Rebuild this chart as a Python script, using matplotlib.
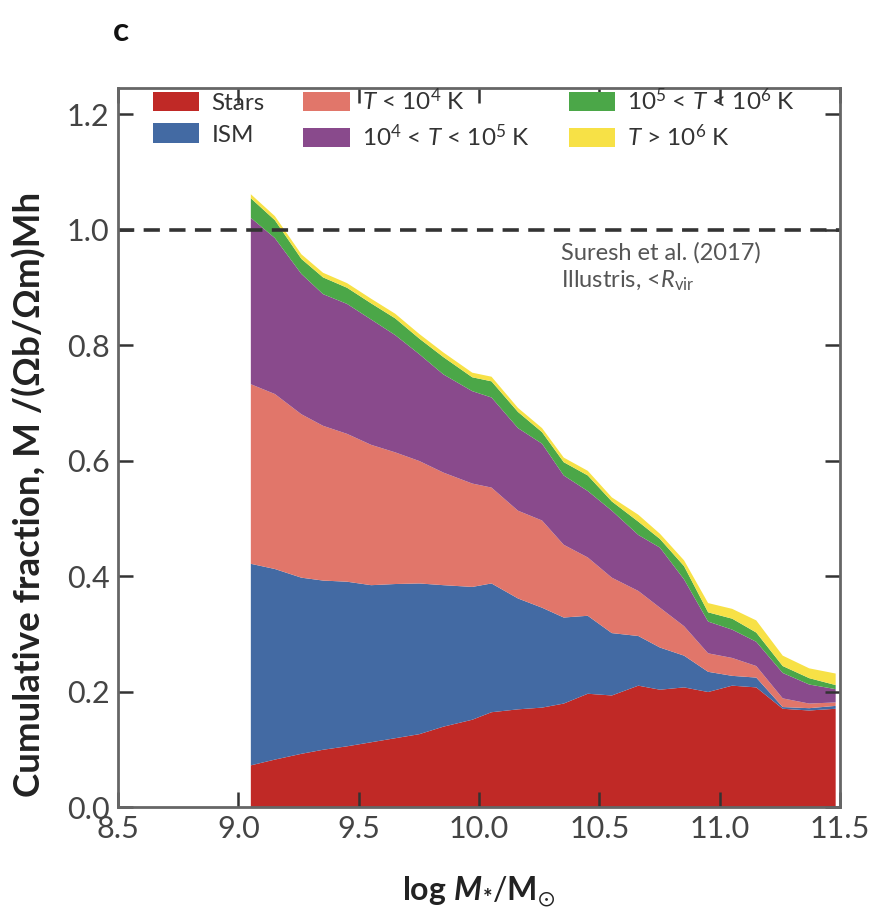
import matplotlib
matplotlib.use("Agg")
import matplotlib.pyplot as plt
import numpy as np

plt.rcParams['font.family'] = ['Lato', 'DejaVu Sans']
plt.rcParams['mathtext.fontset'] = 'custom'
plt.rcParams['mathtext.rm'] = 'Lato'
plt.rcParams['mathtext.it'] = 'Lato:italic'
plt.rcParams['mathtext.bf'] = 'Lato:bold'
plt.rcParams['mathtext.bfit'] = 'Lato:bold:italic'
plt.rcParams['mathtext.fallback'] = 'stixsans'

# stellar mass bins (log M*/Msun)
log_mstar = [9.05, 9.15, 9.26, 9.35, 9.45, 9.55, 9.65, 9.75, 9.85, 9.97,
             10.05, 10.16, 10.26, 10.35, 10.45, 10.55, 10.66, 10.75, 10.85,
             10.95, 11.05, 11.15, 11.26, 11.37, 11.48]

# cumulative baryon fractions, stacked from the bottom up
cum_stars = [0.073, 0.083, 0.093, 0.100, 0.106, 0.113, 0.120, 0.127, 0.140, 0.152,
             0.165, 0.170, 0.173, 0.180, 0.197, 0.194, 0.211, 0.204, 0.208,
             0.200, 0.211, 0.208, 0.171, 0.168, 0.171]
cum_ism = [0.422, 0.413, 0.398, 0.393, 0.391, 0.385, 0.387, 0.388, 0.385, 0.382,
           0.388, 0.362, 0.346, 0.329, 0.332, 0.302, 0.297, 0.277, 0.263,
           0.235, 0.228, 0.225, 0.174, 0.172, 0.176]
cum_cold = [0.733, 0.716, 0.681, 0.661, 0.647, 0.628, 0.615, 0.600, 0.580, 0.561,
            0.554, 0.514, 0.497, 0.455, 0.433, 0.398, 0.375, 0.346, 0.314,
            0.267, 0.259, 0.245, 0.189, 0.180, 0.182]
cum_cool = [1.021, 0.986, 0.924, 0.889, 0.872, 0.845, 0.818, 0.785, 0.750, 0.721,
            0.710, 0.657, 0.630, 0.575, 0.548, 0.514, 0.472, 0.450, 0.395,
            0.322, 0.308, 0.287, 0.233, 0.213, 0.205]
cum_warm = [1.055, 1.017, 0.950, 0.918, 0.900, 0.873, 0.847, 0.812, 0.780, 0.745,
            0.738, 0.685, 0.650, 0.598, 0.575, 0.530, 0.495, 0.465, 0.418,
            0.338, 0.327, 0.303, 0.245, 0.224, 0.212]
cum_hot = [1.062, 1.024, 0.958, 0.926, 0.908, 0.881, 0.855, 0.820, 0.788, 0.753,
           0.746, 0.692, 0.657, 0.606, 0.583, 0.537, 0.507, 0.474, 0.428,
           0.354, 0.344, 0.324, 0.263, 0.241, 0.232]

labels = ['Stars', 'ISM', r'$T$ < 10$^4$ K', r'10$^4$ < $T$ < 10$^5$ K',
          r'10$^5$ < $T$ < 10$^6$ K', r'$T$ > 10$^6$ K']
colors = ['#c02926', '#436aa3', '#e1766a', '#894a8c', '#4ba748', '#f7e146']

fig = plt.figure(figsize=(8.7, 9.18), dpi=100)
ax = fig.add_axes([0.1356, 0.1209, 0.8299, 0.7832])

x = np.array(log_mstar)
layers = [np.zeros_like(x)] + [np.array(c) for c in
                               (cum_stars, cum_ism, cum_cold, cum_cool, cum_warm, cum_hot)]
for i in range(6):
    ax.fill_between(x, layers[i], layers[i + 1], color=colors[i], lw=0,
                    label=labels[i])

ax.axhline(1.0, color='#333333', lw=2.6, dashes=(4.5, 2.6))
ax.text(10.34, 0.978, 'Suresh et al. (2017)\nIllustris, <$R_{\\mathrm{vir}}$',
        color='#555555', fontsize=17, va='top', ha='left', linespacing=1.25)

ax.set_xlim(8.5, 11.5)
ax.set_ylim(0, 1.245)
ax.set_xticks([8.5, 9.0, 9.5, 10.0, 10.5, 11.0, 11.5])
ax.set_xticklabels(['8.5', '9.0', '9.5', '10.0', '10.5', '11.0', '11.5'])
ax.set_yticks([0.0, 0.2, 0.4, 0.6, 0.8, 1.0, 1.2])
ax.set_yticklabels(['0.0', '0.2', '0.4', '0.6', '0.8', '1.0', '1.2'])
ax.tick_params(direction='in', length=11, width=1.8, color='#333333',
               labelsize=22, labelcolor='#444444', top=True, right=True, pad=6)
for s in ax.spines.values():
    s.set_color('#666666')
    s.set_linewidth(2)

ax.set_xlabel(r'$\mathbf{log}\ \mathbfit{M}_{\mathbf{*}}/\mathbf{M}_{\odot}$',
              fontsize=23, labelpad=22, color='#222222')
ax.set_ylabel('Cumulative fraction, M /(Ωb/Ωm)Mh', fontsize=26.5,
              fontweight='bold', color='#222222')
ax.yaxis.set_label_coords(-0.1, 0.435)

leg = ax.legend(ncol=3, loc='upper left', bbox_to_anchor=(0.035, 1.014),
                frameon=False, fontsize=17.5, handlelength=1.9, handleheight=0.85,
                handletextpad=0.5, columnspacing=1.6, labelspacing=0.38,
                borderaxespad=0)
for t in leg.get_texts():
    t.set_color('#333333')

fig.text(0.13, 0.955, 'c', fontsize=24, fontweight='bold', color='#111111')

fig.savefig('out.png', dpi=100)
